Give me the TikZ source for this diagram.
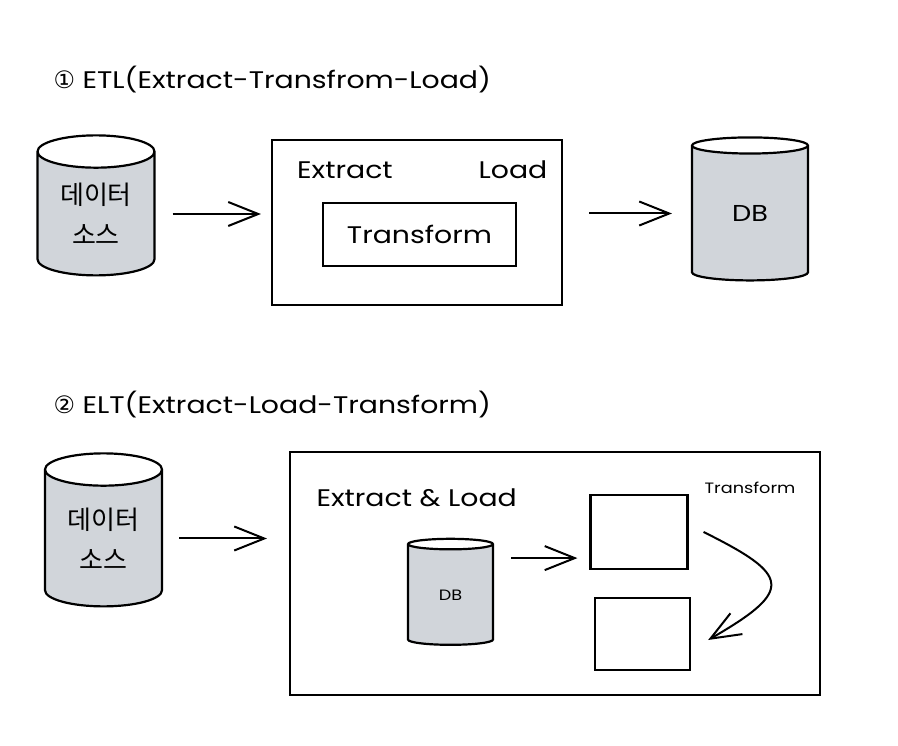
\documentclass[tikz,border=0pt]{standalone}
\usepackage{fontspec}
\setmainfont{Poppins}[FakeStretch=1.18]
\newfontfamily\kofont{Noto Sans CJK KR}
\newfontfamily\symfont{DejaVu Sans}
\usetikzlibrary{shapes.geometric,arrows.meta,positioning}
\definecolor{dbgray}{HTML}{D1D5DA}

\begin{document}
\begin{tikzpicture}[x=1pt,y=-1pt,
  store/.style={cylinder, shape border rotate=90, aspect=0.45, draw, line width=2.2pt,
    cylinder uses custom fill, cylinder body fill=dbgray, cylinder end fill=white, inner sep=0pt},
  box/.style={draw, line width=2.2pt, inner sep=0pt},
  flow/.style={-{Straight Barb[length=30pt,width=24pt]}, line width=2pt},
  title/.style={anchor=west, font=\fontsize{24pt}{28pt}\selectfont},
  lbl/.style={font=\fontsize{24pt}{28pt}\selectfont},
  kolbl/.style={align=center, font=\kofont\fontsize{26pt}{40pt}\selectfont}]
\useasboundingbox (0,0) rectangle (898,746);

% ETL
\node[title] (t1) at (50,80) {{\symfont ①} ETL(Extract-Transfrom-Load)};
\node[store, kolbl, minimum width=117pt, minimum height=140pt] (src1) at (96,214) {데이터\\소스};
\node[box, minimum width=290pt, minimum height=165pt] (etl) at (417,222.5) {};
\node[lbl] (ex1) at (345,170) {Extract};
\node[lbl] (ld1) at (513,170) {Load};
\node[box, lbl, minimum width=193pt, minimum height=63pt] (trf) at (419.5,234.5) {Transform};
\node[store, font=\fontsize{23pt}{27pt}\selectfont, minimum width=116pt, minimum height=143pt] (db1) at (750,213.5) {DB};
\draw[flow, shorten <=17pt, shorten >=10pt] (src1.east) -- (etl.west |- src1.east);
\draw[flow, shorten <=26pt, shorten >=19pt] (etl.east |- db1.west) -- (db1.west);

% ELT
\node[title] (t2) at (50,405) {{\symfont ②} ELT(Extract-Load-Transform)};
\node[store, kolbl, minimum width=117pt, minimum height=153pt] (src2) at (103.5,538.5) {데이터\\소스};
\node[box, minimum width=530pt, minimum height=243pt] (elt) at (555,573.5) {};
\node[lbl, anchor=west] (el2) at (313,498) {Extract \& Load};
\node[store, font=\fontsize{15pt}{18pt}\selectfont, minimum width=85pt, minimum height=106pt] (db2) at (450.5,595) {DB};
\node[box, minimum width=97pt, minimum height=74pt] (ra) at (639,532) {};
\node[box, minimum width=95pt, minimum height=72pt] (rb) at (642.5,634) {};
\node[font=\fontsize{15pt}{18pt}\selectfont] (tf2) at (750,488) {Transform};
\draw[flow, shorten <=16pt, shorten >=22pt] (src2.east) -- (elt.west |- src2.east);
\path ([yshift=12pt]ra.south west) coordinate (in4);
\draw[flow, shorten <=17pt, shorten >=12pt] (db2.east |- in4) -- (in4);
\draw[flow] ([xshift=15pt]ra.east) .. controls (790,575) and (795,590) .. ([xshift=17pt,yshift=-6pt]rb.east);
\end{tikzpicture}
\end{document}
